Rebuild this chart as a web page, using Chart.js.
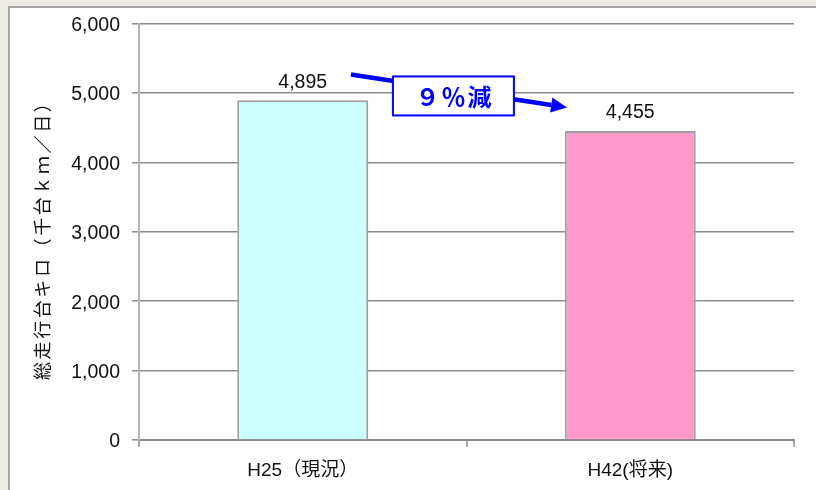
<!DOCTYPE html>
<html lang="ja">
<head>
<meta charset="utf-8">
<script src="https://cdn.jsdelivr.net/npm/chart.js@4.4.1/dist/chart.umd.min.js"></script>
<style>
  html, body { margin: 0; padding: 0; }
  body { width: 816px; height: 490px; background: #EDEBE3; position: relative; overflow: hidden; }
  #panel { position: absolute; left: 8px; top: 6px; right: -10px; bottom: -10px;
           background: #ffffff; border-top: 2px solid #A4A4A4; border-left: 2px solid #A4A4A4; }
  #c { position: absolute; left: 0; top: 0; }
</style>
</head>
<body>
<div id="panel"></div>
<canvas id="c" width="816" height="490"></canvas>
<script>
// Total vehicle-kilometres travelled (thousand vehicle-km per day)
const categories = ['H25（現況）', 'H42(将来)'];
const totalVehicleKm = [4895, 4455];
const barColors = ['#CCFFFF', '#FF99CC'];
const yTicks = [0, 1000, 2000, 3000, 4000, 5000, 6000];
const yTitle = '総走行台キロ（千台ｋｍ／日）';
const changeLabel = '９％減';

const FONT = '"Liberation Sans", "Noto Sans CJK JP", sans-serif';
const CJK = '"Noto Sans CJK JP", sans-serif';
const fmt = v => v.toLocaleString('en-US');

// value labels above each bar
const valueLabels = {
  id: 'valueLabels',
  afterDatasetsDraw(chart) {
    const { ctx } = chart;
    const meta = chart.getDatasetMeta(0);
    ctx.save();
    ctx.font = '19.5px ' + FONT;
    ctx.fillStyle = '#111';
    ctx.textAlign = 'center';
    ctx.textBaseline = 'middle';
    meta.data.forEach((bar, i) => {
      ctx.fillText(fmt(totalVehicleKm[i]), bar.x, bar.y - 18);
    });
    ctx.restore();
  }
};

// vertical axis title, letter-spaced
const axisTitle = {
  id: 'axisTitle',
  afterDraw(chart) {
    const { ctx, chartArea } = chart;
    ctx.save();
    ctx.translate(42, (chartArea.top + chartArea.bottom) / 2 + 4);
    ctx.rotate(-Math.PI / 2);
    ctx.font = '18px ' + CJK;
    ctx.letterSpacing = '2.6px';
    ctx.fillStyle = '#111';
    ctx.textAlign = 'center';
    ctx.textBaseline = 'middle';
    ctx.fillText(yTitle, 0, 0);
    ctx.restore();
  }
};

// arrow with the reduction callout between the two bars
const changeCallout = {
  id: 'changeCallout',
  afterDatasetsDraw(chart) {
    const { ctx, scales: { x, y } } = chart;
    const x0 = x.getPixelForValue(0.147), y0 = y.getPixelForValue(5268);
    const x1 = x.getPixelForValue(0.807), y1 = y.getPixelForValue(4794);
    const ang = Math.atan2(y1 - y0, x1 - x0);
    const headLen = 16, headHalf = 7.5;
    const bx = x1 - headLen * Math.cos(ang), by = y1 - headLen * Math.sin(ang);
    ctx.save();
    ctx.strokeStyle = '#0000FF';
    ctx.fillStyle = '#0000FF';
    ctx.lineWidth = 4.5;
    ctx.beginPath();
    ctx.moveTo(x0, y0);
    ctx.lineTo(bx, by);
    ctx.stroke();
    ctx.beginPath();
    ctx.moveTo(x1, y1);
    ctx.lineTo(bx + headHalf * Math.sin(ang), by - headHalf * Math.cos(ang));
    ctx.lineTo(bx - headHalf * Math.sin(ang), by + headHalf * Math.cos(ang));
    ctx.closePath();
    ctx.fill();

    // callout box
    const cx = x.getPixelForValue(0.46), cy = y.getPixelForValue(4959);
    const w = 121, h = 39;
    ctx.fillStyle = '#ffffff';
    ctx.fillRect(cx - w / 2, cy - h / 2, w, h);
    ctx.lineWidth = 2;
    ctx.strokeRect(cx - w / 2, cy - h / 2, w, h);
    ctx.fillStyle = '#0000FF';
    ctx.font = 'bold 24px ' + CJK;
    ctx.letterSpacing = '2px';
    ctx.textAlign = 'center';
    ctx.textBaseline = 'middle';
    ctx.fillText(changeLabel, cx + 1, cy + 1);
    ctx.restore();
  }
};

new Chart(document.getElementById('c'), {
  type: 'bar',
  data: {
    labels: categories,
    datasets: [{
      data: totalVehicleKm,
      backgroundColor: barColors,
      borderColor: '#A0A0A0',
      borderWidth: 2,
      borderSkipped: 'bottom',
      barPercentage: 0.4,
      categoryPercentage: 1.0
    }]
  },
  options: {
    responsive: false,
    animation: false,
    devicePixelRatio: 1,
    layout: { padding: { top: 22, right: 22, left: 0, bottom: 0 } },
    plugins: { legend: { display: false }, tooltip: { enabled: false } },
    scales: {
      x: {
        offset: true,
        grid: { offset: true, drawOnChartArea: false, drawTicks: true, tickLength: 7, color: '#A8A8A8', lineWidth: 2 },
        border: { color: '#8C8C8C', width: 2 },
        ticks: { color: '#111', padding: 12, font: { family: FONT, size: 19 } },
        afterFit(scale) { scale.height = 50; }
      },
      y: {
        min: 0,
        max: 6000,
        afterBuildTicks(scale) { scale.ticks = yTicks.map(v => ({ value: v })); },
        grid: { color: '#8C8C8C', lineWidth: 1.5, tickLength: 7 },
        border: { color: '#B4B4B4', width: 2 },
        ticks: { color: '#111', padding: 12, labelOffset: 2, font: { family: FONT, size: 19.5 }, callback: v => fmt(v) },
        title: { display: false },
        afterFit(scale) { scale.width = 139; }
      }
    }
  },
  plugins: [valueLabels, changeCallout, axisTitle]
});
</script>
</body>
</html>
